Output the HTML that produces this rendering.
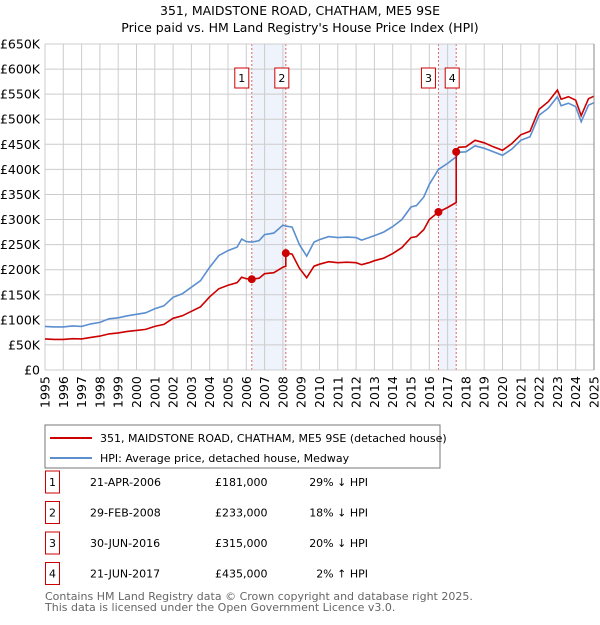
<!DOCTYPE html>
<html><head><meta charset="utf-8"><style>
body{margin:0;background:#fff;font-family:"Liberation Sans","DejaVu Sans",sans-serif;}
svg text{font-family:"DejaVu Sans","Liberation Sans",sans-serif;}
</style></head><body>
<svg id="chart" width="600" height="620" viewBox="0 0 600 620" xmlns="http://www.w3.org/2000/svg">
<text x="300" y="15" text-anchor="middle" font-size="12.5" fill="#000">351, MAIDSTONE ROAD, CHATHAM, ME5 9SE</text>
<text x="300" y="32" text-anchor="middle" font-size="12.5" fill="#000">Price paid vs. HM Land Registry's House Price Index (HPI)</text>
<g id="bands"></g><g id="grid"></g><g id="lines"></g><g id="marks"></g><g id="axes"></g>
<rect x="45" y="425" width="395" height="43" fill="#fff" stroke="#777"/>
<line x1="50" y1="438" x2="92" y2="438" stroke="#cc0000" stroke-width="2"/>
<text x="100" y="442" font-size="11">351, MAIDSTONE ROAD, CHATHAM, ME5 9SE (detached house)</text>
<line x1="50" y1="458" x2="92" y2="458" stroke="#5b8fd0" stroke-width="2"/>
<text x="100" y="462" font-size="11">HPI: Average price, detached house, Medway</text>
<g id="table" font-size="11"></g>
<text x="45" y="600" font-size="11" fill="#666">Contains HM Land Registry data © Crown copyright and database right 2025.</text>
<text x="45" y="611" font-size="11" fill="#666">This data is licensed under the Open Government Licence v3.0.</text>
</svg>
<script>
const times=[1995.0,1995.5,1996.0,1996.5,1997.0,1997.5,1998.0,1998.5,1999.0,1999.5,2000.0,2000.5,2001.0,2001.5,2002.0,2002.5,2003.0,2003.5,2004.0,2004.5,2005.0,2005.5,2005.75,2006.0,2006.3,2006.7,2007.0,2007.5,2008.0,2008.16,2008.16,2008.5,2008.9,2009.3,2009.7,2010.0,2010.5,2011.0,2011.5,2012.0,2012.3,2012.7,2013.0,2013.5,2014.0,2014.5,2015.0,2015.3,2015.7,2016.0,2016.5,2017.0,2017.47,2017.47,2017.6,2018.0,2018.5,2019.0,2019.5,2020.0,2020.5,2021.0,2021.5,2022.0,2022.5,2023.0,2023.2,2023.6,2024.0,2024.3,2024.7,2025.0];
const hpiValues=[87,86,86,88,87,92,95,102,104,108,111,114,122,128,145,152,165,178,205,228,238,245,261,256,255,258,270,273,289,287,287,285,250,227,255,260,266,264,265,264,259,264,268,275,286,300,325,328,345,370,400,412,425,425,434,435,447,442,435,428,440,458,465,508,522,545,527,532,525,495,528,533];
const propertyValues=[62,61,61,62.5,62,65,67.5,72,74,77,79,81,87,91,103,108,117,126,146,162,169,174,185,182,181,183,192,194,205,207,233,231,203,184,207,211,216,214,215,214,210,214,218,223,232,244,264,266,280,300,315,324,334,435,444,445,458,453,445,438,451,469,476,520,535,558,540,545,538,507,541,546];
const saleLabels=["1","2","3","4"];
const saleTimes=[2006.3,2008.16,2016.5,2017.47];
const salePrices=[181,233,315,435];
const saleDates=["21-APR-2006","29-FEB-2008","30-JUN-2016","21-JUN-2017"];
const salePriceText=["£181,000","£233,000","£315,000","£435,000"];
const saleHpiText=["29% ↓ HPI","18% ↓ HPI","20% ↓ HPI","2% ↑ HPI"];
const yTicks=[0,50,100,150,200,250,300,350,400,450,500,550,600,650];
const yTickLabels=["£0","£50K","£100K","£150K","£200K","£250K","£300K","£350K","£400K","£450K","£500K","£550K","£600K","£650K"];
const xYears=[1995,1996,1997,1998,1999,2000,2001,2002,2003,2004,2005,2006,2007,2008,2009,2010,2011,2012,2013,2014,2015,2016,2017,2018,2019,2020,2021,2022,2023,2024,2025];

const NS="http://www.w3.org/2000/svg";
const X0=45,X1=594,Y0=370,Y1=44;
const xs=t=>X0+(t-1995)/30*(X1-X0);
const ys=v=>Y0-v/650*(Y0-Y1);
function mk(tag,attrs,parent){const e=document.createElementNS(NS,tag);for(const k in attrs)e.setAttribute(k,attrs[k]);document.getElementById(parent).appendChild(e);return e;}

// bands
for(let i=0;i<saleTimes.length;i+=2){
  const b=mk('rect',{x:xs(saleTimes[i]),y:Y1,width:xs(saleTimes[i+1])-xs(saleTimes[i]),height:Y0-Y1,fill:'#eef3fc'},'bands');
  
  
}
// grid
yTicks.forEach((v,i)=>{
  const l=mk('line',{x1:X0,x2:X1,y1:ys(v),y2:ys(v),stroke:'#cccccc','stroke-width':1},'grid');
  
  
  const t=mk('text',{x:40,y:ys(v)+4.5,'text-anchor':'end','font-size':12.5},'axes');
  
  
  t.textContent=yTickLabels[i];
});
xYears.forEach(yr=>{
  const l=mk('line',{x1:xs(yr),x2:xs(yr),y1:Y1,y2:Y0,stroke:'#cccccc','stroke-width':1},'grid');
  
  
  const t=mk('text',{x:0,y:0,'font-size':12.5,transform:`translate(${xs(yr)+4.5},${Y0+38}) rotate(-90)`},'axes');
  
  
  t.textContent=yr;
});
// sale vlines & label boxes
saleTimes.forEach((t,i)=>{
  const l=mk('line',{x1:xs(t),x2:xs(t),y1:Y1,y2:Y0,stroke:'#e06666','stroke-width':1,'stroke-dasharray':'2,2'},'bands');
  
  
  const bx=xs(t)-(i%2===0?10:4);
  const r=mk('rect',{x:bx-7,y:68,width:14,height:20,fill:'#fff',stroke:'#cc0000'},'marks');
  
  
  const tx=mk('text',{x:bx,y:82,'text-anchor':'middle','font-size':11},'marks');
  
  
  tx.textContent=saleLabels[i];
});
// lines
const path=vals=>times.map((t,i)=>(i?'L':'M')+xs(t).toFixed(1)+','+ys(vals[i]).toFixed(1)).join('');
const hp=mk('path',{d:path(hpiValues),fill:'none',stroke:'#5b8fd0','stroke-width':1.6},'lines');


const pp=mk('path',{d:path(propertyValues),fill:'none',stroke:'#cc0000','stroke-width':1.6},'lines');


saleTimes.forEach((t,i)=>{
  const c=mk('circle',{cx:xs(t),cy:ys(salePrices[i]),r:4,fill:'#cc0000'},'marks');
  
  
});
// axis border
const ax=mk('line',{x1:X1,x2:X1,y1:Y1,y2:Y0,stroke:'#888','stroke-width':1},'axes');


// table
saleLabels.forEach((lab,i)=>{
  const y=482+i*30.5;
  const r=mk('rect',{x:45.5,y:y-11,width:14,height:22,fill:'#fff',stroke:'#cc0000'},'table');
  
  
  const cols=[[52.5,lab,'middle'],[90,saleDates[i],'start'],[215,salePriceText[i],'start'],[368,saleHpiText[i],'end']];
  cols.forEach(([x,s,a])=>{
    const t=mk('text',{x:x,y:y+4,'text-anchor':a,'font-size':11},'table');
    
    
    t.textContent=s;
  });
});
</script>
</body></html>
